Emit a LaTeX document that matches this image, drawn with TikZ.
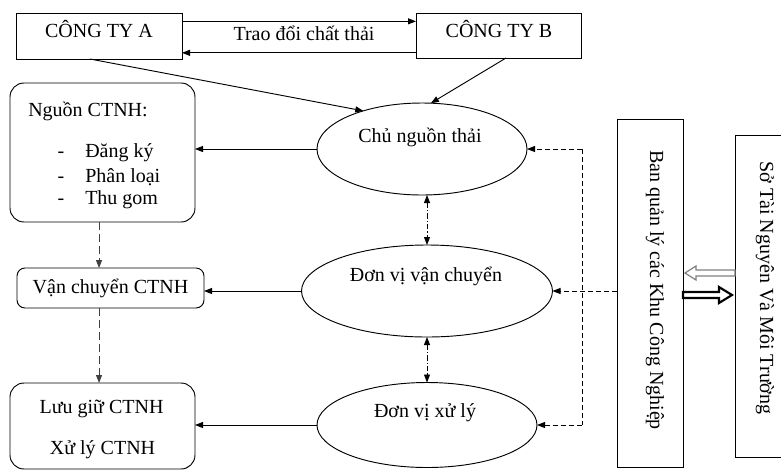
\documentclass[tikz,border=0pt]{standalone}
\usepackage{fontspec}
\setmainfont{Liberation Serif}
\usetikzlibrary{arrows.meta,shapes.geometric,calc}
\tikzset{
  box/.style={draw, line width=0.7pt, inner sep=0pt, outer sep=0pt},
  rbox/.style={box, rounded corners=#1},
  ell/.style={draw, ellipse, line width=0.7pt, inner sep=0pt, outer sep=0pt},
  txt/.style={inner sep=0pt, text height=11pt, text depth=3.5pt},
  conn/.style={line width=0.7pt, >={Triangle[length=6pt,width=4.5pt]}},
  ldash/.style={conn, draw=black!75, dash pattern=on 6pt off 3pt},
  rdash/.style={conn, dash pattern=on 3.5pt off 2.5pt},
  ddot/.style={conn, dash pattern=on 4pt off 1.5pt on 1pt off 1.5pt},
  hollowarr/.style={draw=black!50, fill=white, line width=0.9pt, line join=miter},
  boldarr/.style={draw=black, fill=white, line width=1.6pt, line join=miter},
}
\begin{document}
\begin{tikzpicture}[x=0.75pt,y=-0.75pt,font=\fontsize{15pt}{18pt}\selectfont]
\useasboundingbox (0,0) rectangle (781,472);
% boxes
\node[box, minimum width=124.5pt, minimum height=34.5pt] (A) at (99,36) {};
\node[box, minimum width=123.75pt, minimum height=33.75pt] (B) at (498.5,35.5) {};
\node[rbox=10.5pt, minimum width=138.75pt, minimum height=104.25pt] (ng) at (102.5,152.5) {};
\node[rbox=6pt, minimum width=140.25pt, minimum height=30pt] (van) at (110.5,288) {};
\node[rbox=10.5pt, minimum width=138.75pt, minimum height=64.5pt] (luu) at (102.5,426) {};
\node[ell, minimum width=157.5pt, minimum height=69pt] (e1) at (422,149) {};
\node[ell, minimum width=188.25pt, minimum height=69pt] (e2) at (427,291) {};
\node[ell, minimum width=165pt, minimum height=63.75pt] (e3) at (427,425) {};
\node[box, minimum width=49.5pt, minimum height=261pt] (ban) at (650,293) {};
\node[box, minimum width=41.25pt, minimum height=241.5pt] (so) at (762.5,296) {};
% texts
\node[txt] (tA) at (99,32) {CÔNG TY A};
\node[txt] (tB) at (499,32) {CÔNG TY B};
\node[txt] (tX) at (304,35) {Trao đổi chất thải};
\node[txt, anchor=west] (tN) at (28,111) {Nguồn CTNH:};
\node[txt] (d1) at (61,152) {-};
\node[txt] (d2) at (61,177) {-};
\node[txt] (d3) at (61,199) {-};
\node[txt, anchor=west] (i1) at (85,152) {Đăng ký};
\node[txt, anchor=west] (i2) at (85,177) {Phân loại};
\node[txt, anchor=west] (i3) at (85,199) {Thu gom};
\node[txt] (tV) at (110.5,288) {Vận chuyển CTNH};
\node[txt] (tL1) at (101.5,408) {Lưu giữ CTNH};
\node[txt] (tL2) at (102.5,449) {Xử lý CTNH};
\node[txt] (te1) at (420,137) {Chủ nguồn thải};
\node[txt] (te2) at (426,276) {Đơn vị vận chuyển};
\node[txt] (te3) at (425,412) {Đơn vị xử lý};
\node[txt, rotate=-90] (tBan) at (655,290) {Ban quản lý các Khu Công Nghiệp};
\node[txt, rotate=-90] (tSo) at (765,288) {Sở Tài Nguyên Và Môi Trường};
% connectors top
\draw[conn,->] ([yshift=11pt]A.east) -- ([yshift=11pt]A.east -| B.west);
\draw[conn,->] ([yshift=-13pt]B.west) -- ([yshift=-13pt]B.west -| A.east);
\draw[conn,->] ([xshift=-6.75pt]A.south) -- (e1.147);
\draw[conn,->] ([xshift=5.6pt]B.south) -- (e1.79);
% left arrows
\draw[conn,->] (e1.west) -- (e1.west -| ng.east);
\draw[conn,->] (e2.west) -- (e2.west -| van.east);
\draw[conn,->] (e3.west) -- (e3.west -| luu.east);
% left dashed
\draw[ldash,->] ([xshift=-2.6pt]ng.south) -- ([xshift=-2.6pt]ng.south |- van.north);
\draw[ldash,->] ([xshift=-2.6pt]ng.south |- van.south) -- ([xshift=-2.6pt]ng.south |- luu.north);
% dash-dot between ellipses
\draw[ddot,<->] (e1.south -| e2.north) -- (e2.north);
\draw[ddot,<->] (e2.south) -- (e3.north);
% right dashed
\coordinate (jx) at (582,291);
\draw[rdash,->] (ban.west |- e2.east) -- (e2.east);
\draw[rdash] (jx |- e1.east) -- (jx |- e3.east);
\draw[rdash,->] (jx |- e1.east) -- (e1.east);
\draw[rdash,->] (jx |- e3.east) -- (e3.east);
% Ban <-> So : block arrows
\coordinate (hS) at ([yshift=17.25pt]so.west);
\coordinate (hT) at ([yshift=17.25pt]so.west -| ban.east);
\draw[hollowarr] ($(hS)+(0,-3)$) -- ($(hT)+(13,-3)$) -- ($(hT)+(13,-7)$) -- ($(hT)+(2,0)$)
  -- ($(hT)+(13,7)$) -- ($(hT)+(13,3)$) -- ($(hS)+(0,3)$) -- cycle;
\coordinate (bS) at ([yshift=-1.5pt]ban.east);
\coordinate (bT) at ([yshift=-1.5pt]ban.east -| so.west);
\draw[boldarr] ($(bS)+(0,-3)$) -- ($(bT)+(-16,-3)$) -- ($(bT)+(-16,-8)$) -- ($(bT)+(-3,0)$)
  -- ($(bT)+(-16,8)$) -- ($(bT)+(-16,3)$) -- ($(bS)+(0,3)$) -- cycle;
\end{tikzpicture}
\end{document}
